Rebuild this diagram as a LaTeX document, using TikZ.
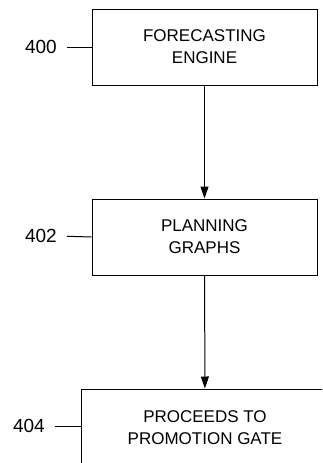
\documentclass[tikz,border=0pt]{standalone}
\usepackage{fontspec}
\setmainfont{Liberation Sans}
\usetikzlibrary{arrows.meta, positioning}
\tikzset{
    >=Latex,
    flow_step/.style={
        rectangle,
        draw=black,
        line width=1pt,
        minimum width=225pt,
        minimum height=76pt,
        align=center,
        font=\fontsize{17pt}{22pt}\selectfont
    },
    flow_arrow/.style={
        -{Triangle[length=12pt, width=8pt]},
        line width=1pt
    },
    ref_label/.style={
        font=\fontsize{19pt}{22pt}\selectfont,
        inner sep=0pt
    },
    ref_tick/.style={
        line width=1pt,
        shorten <=10pt
    }
}

\begin{document}
\begin{tikzpicture}[x=1pt, y=-1pt, node distance=113pt]
\useasboundingbox (0,0) rectangle (322,463);
\clip (0,0) rectangle (322,463);

% Flow steps
\node[flow_step] (Forecast) at (204.5,47) {FORECASTING\\ENGINE};
\node[flow_step, below=of Forecast] (Planning) {PLANNING\\GRAPHS};
\node[flow_step, below=of Planning, minimum width=248pt, minimum height=77pt,
  xshift=0.5pt] (Promotion) {PROCEEDS TO\\PROMOTION GATE};

% Reference numerals
\node[ref_label, anchor=east] (lbl400) at (57,47) {400};
\node[ref_label, anchor=east] (lbl402) at (57,236) {402};
\node[ref_label, anchor=east] (lbl404) at (45,426) {404};

% Edges
\draw[flow_arrow] (Forecast) -- (Planning);
\draw[flow_arrow] (Planning) -- (Promotion);
\draw[ref_tick] (lbl400.east) -- (Forecast.west);
\draw[ref_tick] (lbl402.east) -- (Planning.west);
\draw[ref_tick] (lbl404.east) -- (lbl404.east -| Promotion.west);

\end{tikzpicture}
\end{document}
